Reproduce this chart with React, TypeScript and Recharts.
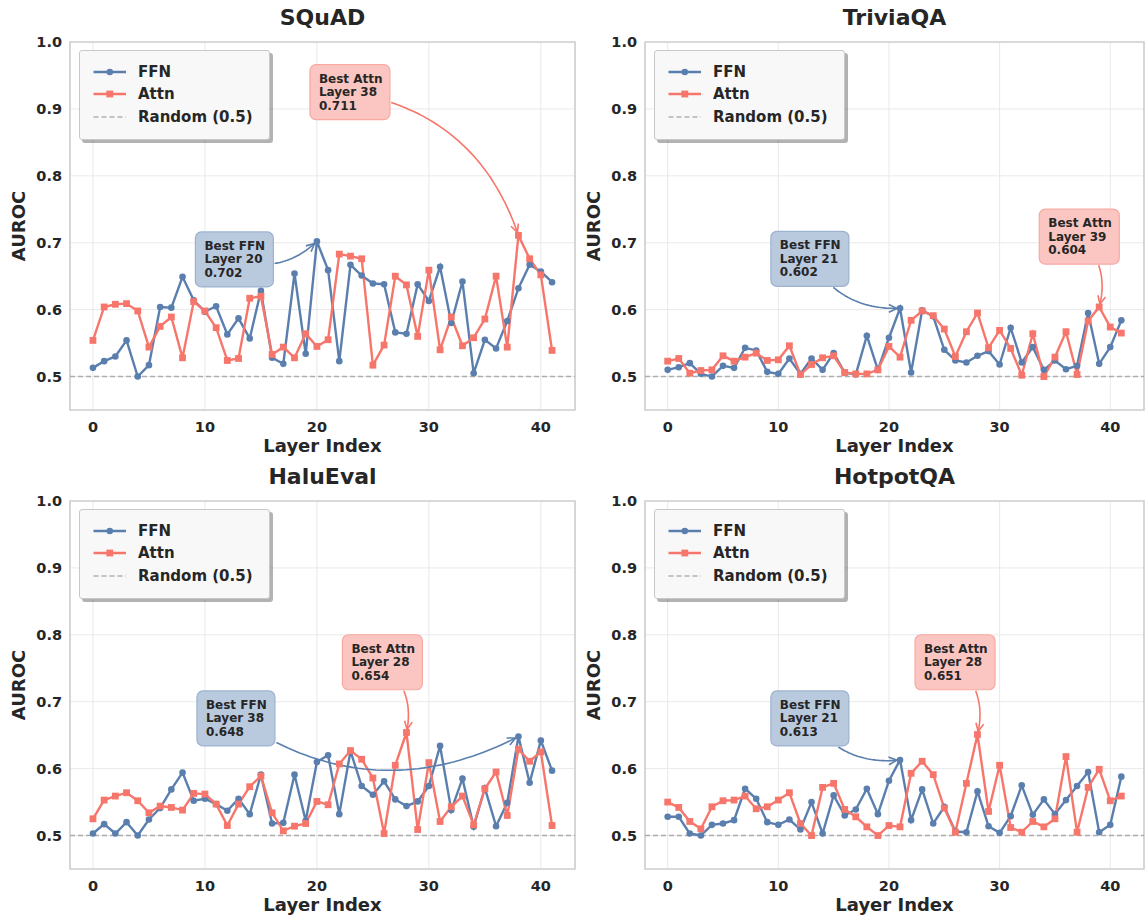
import React from "react";
import { LineChart, Line, XAxis, YAxis, CartesianGrid, ReferenceLine, ReferenceArea, Legend } from "recharts";

const BLUE = "#5a7fae";
const RED = "#f7766b";
const INK = "#262626";

const layers = [
  0, 1, 2, 3, 4, 5, 6, 7, 8, 9, 10, 11, 12, 13, 14, 15, 16, 17, 18, 19, 20,
  21, 22, 23, 24, 25, 26, 27, 28, 29, 30, 31, 32, 33, 34, 35, 36, 37, 38, 39, 40, 41,
];
const xTicks = [0, 10, 20, 30, 40];
const yTicks = [0.5, 0.6, 0.7, 0.8, 0.9, 1.0];

const squadFfn = [
  0.513, 0.523, 0.530, 0.554, 0.500, 0.517, 0.604, 0.603, 0.649, 0.614, 0.597, 0.605, 0.563, 0.587,
  0.557, 0.628, 0.528, 0.519, 0.654, 0.534, 0.702, 0.659, 0.523, 0.667, 0.651, 0.639, 0.638, 0.566,
  0.564, 0.638, 0.613, 0.664, 0.580, 0.642, 0.505, 0.555, 0.542, 0.583, 0.632, 0.667, 0.657, 0.641,
];
const squadAttn = [
  0.554, 0.604, 0.608, 0.609, 0.598, 0.544, 0.575, 0.589, 0.528, 0.612, 0.598, 0.573, 0.524, 0.527,
  0.617, 0.620, 0.533, 0.544, 0.528, 0.564, 0.545, 0.555, 0.683, 0.680, 0.676, 0.517, 0.547, 0.650,
  0.637, 0.560, 0.659, 0.540, 0.589, 0.546, 0.558, 0.586, 0.650, 0.544, 0.711, 0.676, 0.652, 0.539,
];
const triviaFfn = [
  0.510, 0.514, 0.520, 0.504, 0.500, 0.516, 0.513, 0.543, 0.539, 0.507, 0.504, 0.527, 0.504, 0.527,
  0.510, 0.535, 0.506, 0.503, 0.561, 0.510, 0.558, 0.602, 0.506, 0.599, 0.590, 0.540, 0.524, 0.521,
  0.531, 0.538, 0.518, 0.573, 0.521, 0.544, 0.510, 0.524, 0.511, 0.516, 0.595, 0.519, 0.544, 0.584,
];
const triviaAttn = [
  0.523, 0.527, 0.505, 0.509, 0.510, 0.531, 0.523, 0.529, 0.535, 0.524, 0.525, 0.546, 0.503, 0.518,
  0.528, 0.531, 0.506, 0.504, 0.504, 0.510, 0.545, 0.529, 0.584, 0.598, 0.591, 0.571, 0.530, 0.567,
  0.595, 0.543, 0.569, 0.542, 0.502, 0.564, 0.500, 0.529, 0.567, 0.503, 0.583, 0.604, 0.574, 0.565,
];
const haluFfn = [
  0.503, 0.517, 0.503, 0.520, 0.500, 0.524, 0.541, 0.569, 0.594, 0.552, 0.555, 0.547, 0.537, 0.555,
  0.532, 0.591, 0.518, 0.519, 0.591, 0.522, 0.610, 0.620, 0.532, 0.626, 0.574, 0.561, 0.581, 0.554,
  0.544, 0.551, 0.574, 0.634, 0.538, 0.585, 0.513, 0.571, 0.514, 0.549, 0.648, 0.579, 0.642, 0.597,
];
const haluAttn = [
  0.525, 0.553, 0.559, 0.564, 0.552, 0.534, 0.544, 0.542, 0.538, 0.563, 0.562, 0.547, 0.515, 0.547,
  0.573, 0.589, 0.534, 0.507, 0.514, 0.518, 0.551, 0.546, 0.607, 0.627, 0.614, 0.586, 0.503, 0.605,
  0.654, 0.509, 0.609, 0.521, 0.543, 0.559, 0.516, 0.570, 0.595, 0.530, 0.629, 0.611, 0.625, 0.515,
];
const hotpotFfn = [
  0.528, 0.528, 0.503, 0.500, 0.516, 0.518, 0.523, 0.570, 0.555, 0.520, 0.516, 0.524, 0.509, 0.550,
  0.503, 0.560, 0.530, 0.539, 0.570, 0.532, 0.582, 0.613, 0.523, 0.569, 0.518, 0.543, 0.506, 0.505,
  0.566, 0.514, 0.504, 0.529, 0.575, 0.531, 0.554, 0.532, 0.553, 0.574, 0.595, 0.505, 0.516, 0.588,
];
const hotpotAttn = [
  0.550, 0.542, 0.521, 0.510, 0.543, 0.552, 0.553, 0.559, 0.540, 0.543, 0.553, 0.564, 0.518, 0.500,
  0.572, 0.578, 0.539, 0.528, 0.513, 0.500, 0.515, 0.513, 0.593, 0.611, 0.591, 0.541, 0.505, 0.578,
  0.651, 0.536, 0.605, 0.512, 0.505, 0.521, 0.513, 0.525, 0.618, 0.505, 0.572, 0.599, 0.552, 0.559,
];

// panel placement (plot area in page pixels) and where the callout boxes sit (data coords)
const panels = [
  { title: "SQuAD", ffn: squadFfn, attn: squadAttn, left: 70, top: 42, width: 505, ffnBox: [12.63, 0.675], attnBox: [22.95, 0.925] },
  { title: "TriviaQA", ffn: triviaFfn, attn: triviaAttn, left: 645, top: 42, width: 499, ffnBox: [12.85, 0.676], attnBox: [37.2, 0.709] },
  { title: "HaluEval", ffn: haluFfn, attn: haluAttn, left: 70, top: 501, width: 505, ffnBox: [12.77, 0.675], attnBox: [25.85, 0.759] },
  { title: "HotpotQA", ffn: hotpotFfn, attn: hotpotAttn, left: 645, top: 501, width: 499, ffnBox: [12.85, 0.675], attnBox: [25.97, 0.759] },
];
const PLOT_H = 368;

const argmax = (arr) => arr.reduce((best, v, i) => (v > arr[best] ? i : best), 0);

function Callout({ x1, y1, x2, y2, lines, fill, edge, color, rad, boxW }) {
  const W = boxW;
  const H = 55;
  const bx = x1 - W / 2;
  const by = y1 - H / 2;
  const cx = (x1 + x2) / 2 - rad * (y2 - y1);
  const cy = (y1 + y2) / 2 + rad * (x2 - x1);
  const at = (t) => {
    const u = 1 - t;
    return [u * u * x1 + 2 * u * t * cx + t * t * x2, u * u * y1 + 2 * u * t * cy + t * t * y2];
  };
  const inside = (p) => p[0] > bx - 1 && p[0] < bx + W + 1 && p[1] > by - 1 && p[1] < by + H + 1;
  let t0 = 0;
  while (t0 < 1 && inside(at(t0))) t0 += 0.002;
  let t1 = 1;
  while (t1 > t0 && Math.hypot(at(t1)[0] - x2, at(t1)[1] - y2) < 3) t1 -= 0.002;
  const pts = [];
  for (let k = 0; k <= 40; k++) pts.push(at(t0 + ((t1 - t0) * k) / 40));
  const d = pts.map((p, i) => `${i ? "L" : "M"}${p[0].toFixed(1)},${p[1].toFixed(1)}`).join(" ");
  const [ex, ey] = pts[40];
  const [px, py] = pts[38];
  const ang = Math.atan2(ey - py, ex - px);
  const hl = 9;
  const hw = 0.45;
  const head = `M${ex - hl * Math.cos(ang - hw)},${ey - hl * Math.sin(ang - hw)} L${ex},${ey} L${ex - hl * Math.cos(ang + hw)},${ey - hl * Math.sin(ang + hw)}`;
  return (
    <g>
      <path d={d} fill="none" stroke={color} strokeWidth={1.6} />
      <path d={head} fill="none" stroke={color} strokeWidth={1.6} />
      <rect x={bx} y={by} width={W} height={H} rx={6} fill={fill} stroke={edge} strokeWidth={1.2} />
      {lines.map((s, i) => (
        <text key={i} x={bx + 9} y={y1 + (i - 1) * 13.6} dominantBaseline="central" fontSize={12} fontWeight="bold" fill={INK}>
          {s}
        </text>
      ))}
    </g>
  );
}

function LegendBox() {
  const rows = [
    { label: "FFN", color: BLUE, mark: "circle", dash: undefined },
    { label: "Attn", color: RED, mark: "square", dash: undefined },
    { label: "Random (0.5)", color: "#b0b0b0", mark: null, dash: "5 3" },
  ];
  return (
    <div
      style={{
        width: 191,
        height: 90,
        boxSizing: "border-box",
        background: "#f8f8f8",
        border: "1px solid #c8c8c8",
        borderRadius: 3,
        boxShadow: "3px 3px 0 rgba(0,0,0,0.3)",
        paddingTop: 10,
      }}
    >
      {rows.map((r) => (
        <div key={r.label} style={{ height: 22.3, display: "flex", alignItems: "center" }}>
          <svg width={58} height={22} style={{ flex: "none" }}>
            <line x1={13.5} x2={46} y1={11} y2={11} stroke={r.color} strokeWidth={r.mark ? 2.4 : 1.5} strokeDasharray={r.dash} />
            {r.mark === "circle" && <circle cx={29.8} cy={11} r={3.3} fill={r.color} />}
            {r.mark === "square" && <rect x={26.4} y={7.6} width={6.8} height={6.8} fill={r.color} />}
          </svg>
          <span style={{ fontSize: 15, fontWeight: "bold", color: INK, whiteSpace: "nowrap" }}>{r.label}</span>
        </div>
      ))}
    </div>
  );
}

const squareDot = (p) => (
  <rect key={`sq-${p.index}`} x={p.cx - 3.4} y={p.cy - 3.4} width={6.8} height={6.8} fill={RED} />
);

function Panel({ cfg }) {
  const data = layers.map((layer, i) => ({ layer, ffn: cfg.ffn[i], attn: cfg.attn[i] }));
  const bf = argmax(cfg.ffn);
  const ba = argmax(cfg.attn);
  const chartW = 70 + cfg.width + 5;
  const chartH = 42 + PLOT_H + 50;
  return (
    <>
      <div
        style={{
          position: "absolute",
          left: cfg.left,
          top: cfg.top - 38,
          width: cfg.width,
          textAlign: "center",
          fontSize: 22,
          lineHeight: "28px",
          fontWeight: "bold",
          color: INK,
        }}
      >
        {cfg.title}
      </div>
      <div style={{ position: "absolute", left: cfg.left - 70, top: cfg.top - 42 }}>
        <LineChart width={chartW} height={chartH} data={data} margin={{ top: 42, right: 5, left: 0, bottom: 0 }}>
          <CartesianGrid stroke="#e9e9e9" strokeWidth={1} />
          <XAxis
            type="number"
            dataKey="layer"
            domain={[-2.05, 43.05]}
            ticks={xTicks}
            allowDataOverflow
            axisLine={false}
            tickLine={false}
            tickSize={0}
            tickMargin={12}
            height={50}
            tick={{ fill: INK, fontSize: 14.5, fontWeight: "bold" }}
            label={(p) => (
              <text x={p.viewBox.x + p.viewBox.width / 2} y={p.viewBox.y + 35} textAnchor="middle" dominantBaseline="central" fontSize={18} fontWeight="bold" fill={INK}>
                Layer Index
              </text>
            )}
          />
          <YAxis
            type="number"
            domain={[0.45, 1.0]}
            ticks={yTicks}
            allowDataOverflow
            axisLine={false}
            tickLine={false}
            tickSize={0}
            tickMargin={8}
            width={70}
            tickFormatter={(v) => v.toFixed(1)}
            tick={{ fill: INK, fontSize: 14.5, fontWeight: "bold" }}
            label={(p) => {
              const x = p.viewBox.x + 18;
              const y = p.viewBox.y + p.viewBox.height / 2;
              return (
                <text x={x} y={y} transform={`rotate(-90 ${x} ${y})`} textAnchor="middle" dominantBaseline="central" fontSize={18} fontWeight="bold" fill={INK}>
                  AUROC
                </text>
              );
            }}
          />
          <ReferenceArea x1={-2.05} x2={43.05} y1={0.45} y2={1.0} fill="none" stroke="#cfcfcf" strokeWidth={1.6} ifOverflow="visible" />
          <ReferenceLine y={0.5} stroke="#acacac" strokeWidth={1.5} strokeDasharray="5 3" />
          <Line
            dataKey="ffn"
            stroke={BLUE}
            strokeWidth={2.4}
            dot={{ r: 3.3, fill: BLUE, stroke: BLUE, strokeWidth: 0 }}
            activeDot={false}
            isAnimationActive={false}
          />
          <Line dataKey="attn" stroke={RED} strokeWidth={2.4} dot={squareDot} activeDot={false} isAnimationActive={false} />
          <ReferenceLine
            segment={[{ x: cfg.ffnBox[0], y: cfg.ffnBox[1] }, { x: bf, y: cfg.ffn[bf] }]}
            ifOverflow="visible"
            shape={(p) => (
              <Callout
                x1={p.x1}
                y1={p.y1}
                x2={p.x2}
                y2={p.y2}
                lines={["Best FFN", `Layer ${bf}`, cfg.ffn[bf].toFixed(3)]}
                fill="#b9c9de"
                edge="#9db3cf"
                color={BLUE}
                rad={0.3}
                boxW={78}
              />
            )}
          />
          <ReferenceLine
            segment={[{ x: cfg.attnBox[0], y: cfg.attnBox[1] }, { x: ba, y: cfg.attn[ba] }]}
            ifOverflow="visible"
            shape={(p) => (
              <Callout
                x1={p.x1}
                y1={p.y1}
                x2={p.x2}
                y2={p.y2}
                lines={["Best Attn", `Layer ${ba}`, cfg.attn[ba].toFixed(3)]}
                fill="#fbc6c1"
                edge="#f8a9a2"
                color={RED}
                rad={-0.3}
                boxW={80}
              />
            )}
          />
          <Legend
            layout="vertical"
            align="center"
            verticalAlign="middle"
            wrapperStyle={{ left: 79, top: 50, width: "auto", height: "auto" }}
            content={() => <LegendBox />}
          />
        </LineChart>
      </div>
    </>
  );
}

export default function App() {
  return (
    <div
      style={{
        position: "absolute",
        left: 0,
        top: 0,
        width: 1145,
        height: 917,
        overflow: "hidden",
        background: "#ffffff",
        fontFamily: "'DejaVu Sans', sans-serif",
      }}
    >
      {panels.map((cfg) => (
        <Panel key={cfg.title} cfg={cfg} />
      ))}
    </div>
  );
}
